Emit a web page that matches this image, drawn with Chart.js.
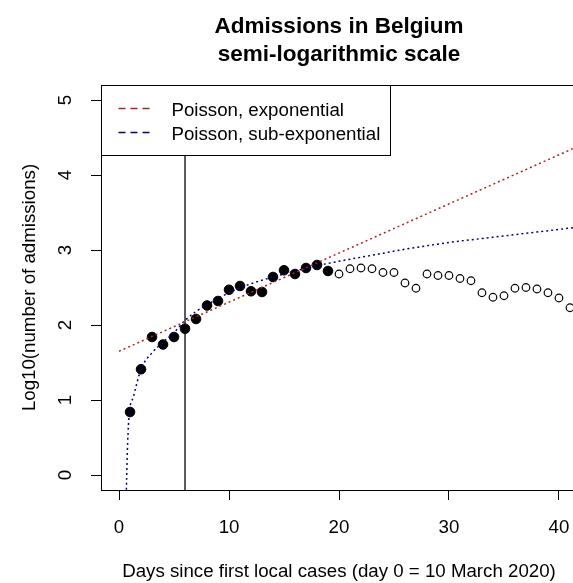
<!DOCTYPE html>
<html>
<head>
<meta charset="utf-8">
<script src="https://cdn.jsdelivr.net/npm/chart.js@4"></script>
<style>
  html, body { margin: 0; padding: 0; background: #fff; overflow: hidden; }
  #wrap { width: 573px; height: 583px; overflow: hidden; }
</style>
</head>
<body>
<div id="wrap"><canvas id="chart" width="590" height="583"></canvas></div>
<script>
// observed admissions, log10 (filled = fitting period, open = later days)
var days_fit = [1, 2, 3, 4, 5, 6, 7, 8, 9, 10, 11, 12, 13, 14, 15, 16, 17, 18, 19];
var log_adm_fit = [0.84, 1.41, 1.84, 1.74, 1.84, 1.95, 2.08, 2.26, 2.32, 2.47, 2.52, 2.45, 2.44, 2.64, 2.73, 2.68, 2.76, 2.80, 2.72];
var days_after = [20, 21, 22, 23, 24, 25, 26, 27, 28, 29, 30, 31, 32, 33, 34, 35, 36, 37, 38, 39, 40, 41];
var log_adm_after = [2.68, 2.75, 2.76, 2.75, 2.70, 2.70, 2.56, 2.49, 2.68, 2.66, 2.66, 2.62, 2.59, 2.43, 2.37, 2.39, 2.49, 2.50, 2.48, 2.43, 2.36, 2.23];

// fitted curves
var exp_days = [0, 42];
var exp_fit = [1.65, 4.40];
var sub_days = [0.6, 0.7, 0.78, 0.93, 1.3, 2, 3, 4, 5, 6, 7, 8, 10, 12, 14, 16, 18, 20, 23, 26, 30, 34, 38, 42];
var sub_fit = [-0.6, 0.0, 0.42, 0.82, 1.04, 1.41, 1.63, 1.77, 1.90, 2.06, 2.18, 2.27, 2.43, 2.55, 2.64, 2.72, 2.79, 2.85, 2.93, 3.01, 3.10, 3.17, 3.24, 3.31];

var cut_day = 6;
var x_ticks = [0, 10, 20, 30, 40];
var y_ticks = [0, 1, 2, 3, 4, 5];
var x_min = -1.64, x_max = 41.64;
var y_min = -0.2, y_max = 5.2;

var title_lines = ["Admissions in Belgium", "semi-logarithmic scale"];
var legend_labels = ["Poisson, exponential", "Poisson, sub-exponential"];
var red = "#b22222";
var blue = "#00008b";

function pts(xs, ys) {
    var out = [];
    for (let i = 0; i < xs.length; i++) {
        out.push({ x: xs[i], y: ys[i] });
    }
    return out;
}

var base_font = "'Liberation Sans', Arial, sans-serif";
Chart.defaults.font.family = base_font;
Chart.defaults.font.size = 18.7;
Chart.defaults.color = "#000";

var rPlot = {
    id: "rPlot",
    afterDatasetsDraw: function(chart) {
        const ctx = chart.ctx;
        const a = chart.chartArea;
        ctx.save();
        // box round the plot
        ctx.strokeStyle = "#000";
        ctx.lineWidth = 1;
        ctx.strokeRect(Math.round(a.left) + 0.5, Math.round(a.top) + 0.5, Math.round(a.right - a.left), Math.round(a.bottom - a.top));
        // legend box
        const lx = Math.round(a.left) + 0.5, ly = Math.round(a.top) + 0.5;
        ctx.fillStyle = "#fff";
        ctx.fillRect(lx, ly, 289, 70);
        ctx.strokeRect(lx, ly, 289, 70);
        const rows = [ly + 23, ly + 47];
        const cols = [red, blue];
        ctx.font = "18.7px " + base_font;
        ctx.textBaseline = "middle";
        ctx.textAlign = "left";
        for (let i = 0; i < 2; i++) {
            ctx.beginPath();
            ctx.setLineDash([7, 5]);
            ctx.lineWidth = 1.4;
            ctx.strokeStyle = cols[i];
            ctx.moveTo(lx + 17, rows[i]);
            ctx.lineTo(lx + 52, rows[i]);
            ctx.stroke();
            ctx.fillStyle = "#000";
            ctx.fillText(legend_labels[i], lx + 70, rows[i] + 2);
        }
        ctx.setLineDash([]);
        // main title
        ctx.font = "bold 22.5px " + base_font;
        ctx.textAlign = "center";
        ctx.textBaseline = "alphabetic";
        const cx = (a.left + a.right) / 2;
        ctx.fillText(title_lines[0], cx, 33);
        ctx.fillText(title_lines[1], cx, 61);
        ctx.restore();
    }
};

const ctx = document.getElementById("chart").getContext("2d");
const myChart = new Chart(ctx, {
    type: "scatter",
    data: {
        datasets: [{
                label: legend_labels[0],
                data: pts(exp_days, exp_fit),
                showLine: true,
                pointRadius: 0,
                borderColor: red,
                borderWidth: 1.5,
                borderDash: [2, 3],
            },
            {
                label: legend_labels[1],
                data: pts(sub_days, sub_fit),
                showLine: true,
                pointRadius: 0,
                cubicInterpolationMode: "monotone",
                borderColor: blue,
                borderWidth: 1.5,
                borderDash: [2, 3],
            },
            {
                label: "cut",
                data: pts([cut_day, cut_day], [y_min, y_max]),
                showLine: true,
                pointRadius: 0,
                borderColor: "#000",
                borderWidth: 1.3,
            },
            {
                label: "fit period",
                data: pts(days_fit, log_adm_fit),
                pointRadius: 4.8,
                backgroundColor: "#000",
                borderColor: "#000",
                borderWidth: 1,
            },
            {
                label: "after",
                data: pts(days_after, log_adm_after),
                pointRadius: 3.8,
                backgroundColor: "rgba(0,0,0,0)",
                borderColor: "#000",
                borderWidth: 1.2,
            },
        ],
    },
    options: {
        responsive: false,
        animation: false,
        devicePixelRatio: 1,
        layout: { padding: { left: 0, right: 13, top: 85, bottom: 0 } },
        plugins: {
            legend: { display: false },
            tooltip: { enabled: false },
        },
        scales: {
            x: {
                type: "linear",
                min: x_min,
                max: x_max,
                afterBuildTicks: function(scale) {
                    scale.ticks = x_ticks.map(function(v) { return { value: v }; });
                },
                afterFit: function(scale) { scale.height = 93; },
                ticks: { padding: 17, maxRotation: 0, autoSkip: false },
                grid: { display: true, drawOnChartArea: false, drawTicks: true, tickLength: 10, color: "#000" },
                border: { display: true, color: "#000", width: 1 },
                title: {
                    display: true,
                    text: "Days since first local cases (day 0 = 10 March 2020)",
                    padding: { top: 0, bottom: 0 },
                },
            },
            y: {
                type: "linear",
                min: y_min,
                max: y_max,
                afterBuildTicks: function(scale) {
                    scale.ticks = y_ticks.map(function(v) { return { value: v }; });
                },
                afterFit: function(scale) { scale.width = 101; },
                ticks: { padding: 20, minRotation: 90, maxRotation: 90, crossAlign: "center", autoSkip: false },
                grid: { display: true, drawOnChartArea: false, drawTicks: true, tickLength: 10, color: "#000" },
                border: { display: true, color: "#000", width: 1 },
                title: {
                    display: true,
                    text: "Log10(number of admissions)",
                    padding: { top: 19, bottom: 0 },
                },
            },
        },
    },
    plugins: [rPlot],
});
</script>
</body>
</html>
